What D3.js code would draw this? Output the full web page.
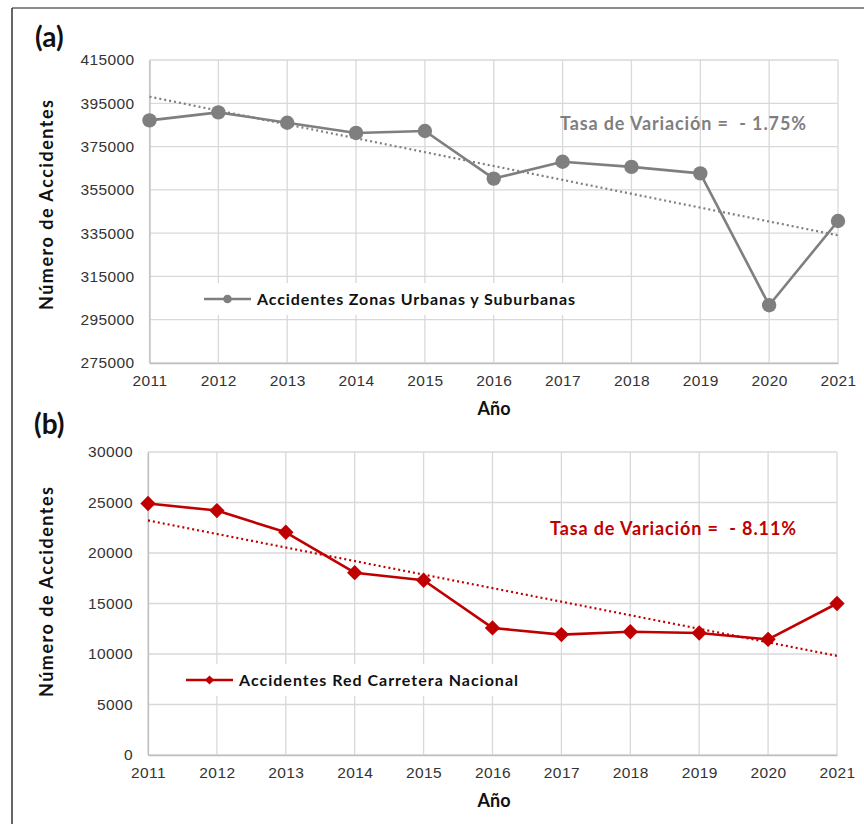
<!DOCTYPE html>
<html>
<head>
<meta charset="utf-8">
<script src="https://cdn.jsdelivr.net/npm/d3@7"></script>
<style>
  html, body { margin: 0; padding: 0; background: #fff; }
  svg { display: block; font-family: Lato, "Open Sans", sans-serif; }
</style>
</head>
<body>
<svg id="chart" width="864" height="824"></svg>
<script>
// Years on the horizontal axis (shared by both panels)
const years = [2011, 2012, 2013, 2014, 2015, 2016, 2017, 2018, 2019, 2020, 2021];

// (a) Accidents in urban and suburban zones
const urbanValues = [387100, 390800, 386000, 381300, 382200, 360200, 368000, 365600, 362600, 301700, 340600];
const urbanTicks = [275000, 295000, 315000, 335000, 355000, 375000, 395000, 415000];

// (b) Accidents on the national road network
const roadValues = [24900, 24200, 22050, 18050, 17300, 12580, 11920, 12200, 12080, 11450, 15000];
const roadTicks = [0, 5000, 10000, 15000, 20000, 25000, 30000];

const svg = d3.select("#chart");

// outer frame: top and left edges
svg.append("line").attr("x1", 12).attr("x2", 864).attr("y1", 8).attr("y2", 8)
  .attr("stroke", "#666").attr("stroke-width", 1.5);
svg.append("line").attr("x1", 12).attr("x2", 12).attr("y1", 8).attr("y2", 824)
  .attr("stroke", "#333").attr("stroke-width", 1.5);

// least-squares linear trend over year index
function linearFit(values) {
  const n = values.length;
  const xs = d3.range(n);
  const mx = d3.mean(xs), my = d3.mean(values);
  const sxy = d3.sum(xs, (x, i) => (x - mx) * (values[i] - my));
  const sxx = d3.sum(xs, x => (x - mx) * (x - mx));
  const slope = sxy / sxx;
  const b = my - slope * mx;
  return i => b + slope * i;
}

function panel(opts) {
  const g = svg.append("g");
  const x = d3.scalePoint().domain(years).range([opts.left, opts.right]);
  const y = d3.scaleLinear().domain(opts.domain).range([opts.bottom, opts.top]);

  // gridlines
  g.append("g").selectAll("line.h").data(opts.ticks).join("line")
    .attr("x1", opts.left).attr("x2", opts.right)
    .attr("y1", d => y(d)).attr("y2", d => y(d))
    .attr("stroke", "#d9d9d9").attr("stroke-width", 1.3);
  g.append("g").selectAll("line.v").data(years).join("line")
    .attr("x1", d => x(d)).attr("x2", d => x(d))
    .attr("y1", opts.top).attr("y2", opts.bottom)
    .attr("stroke", "#d9d9d9").attr("stroke-width", 1.3);

  // axes
  const yAxis = d3.axisLeft(y).tickValues(opts.ticks).tickSize(0).tickPadding(15)
    .tickFormat(d3.format("d"));
  const ya = g.append("g").attr("transform", `translate(${opts.left},0)`).call(yAxis);
  ya.select(".domain").attr("stroke", "#bfbfbf").attr("stroke-width", 1.3);
  ya.selectAll("text").attr("font-size", 15.5).attr("fill", "#333")
    .attr("letter-spacing", 0.4);

  const xAxis = d3.axisBottom(x).tickSize(0).tickPadding(12).tickFormat(d3.format("d"));
  const xa = g.append("g").attr("transform", `translate(0,${opts.bottom})`).call(xAxis);
  xa.select(".domain").attr("stroke", "#bfbfbf").attr("stroke-width", 1.3);
  xa.selectAll("text").attr("font-size", 15.5).attr("fill", "#333")
    .attr("letter-spacing", 0.4);

  // axis titles
  g.append("text")
    .attr("transform", `translate(53,${opts.titleMid}) rotate(-90)`)
    .attr("text-anchor", "middle").attr("font-size", 18).attr("font-weight", "bold")
    .attr("fill", "#111").attr("textLength", 210).attr("lengthAdjust", "spacing")
    .text("Número de Accidentes");
  g.append("text").attr("x", 494).attr("y", opts.bottom + 52)
    .attr("text-anchor", "middle").attr("font-size", 18).attr("font-weight", "bold")
    .attr("fill", "#111").text("Año");

  // panel label
  g.append("text").attr("x", opts.labelX).attr("y", opts.labelY)
    .attr("font-size", 28).attr("font-weight", "bold").attr("fill", "#111")
    .text(opts.label);

  // legend with white backdrop
  const lg = g.append("g").attr("transform", `translate(${opts.legendX},${opts.legendY})`);
  lg.append("rect").attr("x", -6).attr("y", -16).attr("width", opts.legendW).attr("height", 32)
    .attr("fill", "#fff");
  lg.append("line").attr("x1", 0).attr("x2", 47).attr("y1", 0).attr("y2", 0)
    .attr("stroke", opts.color).attr("stroke-width", 2.5);
  opts.marker(lg.append("g").attr("transform", "translate(23.5,0)"), 0.6);
  lg.append("text").attr("x", 53).attr("y", 5.5).attr("font-size", 16).attr("font-weight", "bold")
    .attr("fill", "#111").attr("textLength", opts.legendTextW).attr("lengthAdjust", "spacing")
    .text(opts.legendText);

  // trend line
  const fit = linearFit(opts.values);
  g.append("line")
    .attr("x1", x(years[0])).attr("y1", y(fit(0)))
    .attr("x2", x(years[years.length - 1])).attr("y2", y(fit(years.length - 1)))
    .attr("stroke", opts.color).attr("stroke-width", 2.2).attr("stroke-dasharray", "2,3");

  // annotation
  g.append("text").attr("x", opts.noteX).attr("y", opts.noteY)
    .attr("font-size", 18).attr("font-weight", "bold").attr("fill", opts.color)
    .attr("xml:space", "preserve").attr("textLength", 246).attr("lengthAdjust", "spacing")
    .text(opts.note);

  // series line and markers
  const line = d3.line().x((d, i) => x(years[i])).y(d => y(d));
  g.append("path").datum(opts.values).attr("d", line)
    .attr("fill", "none").attr("stroke", opts.color).attr("stroke-width", 2.6)
    .attr("stroke-linejoin", "round");
  g.append("g").selectAll("g").data(opts.values).join("g")
    .attr("transform", (d, i) => `translate(${x(years[i])},${y(d)})`)
    .each(function () { opts.marker(d3.select(this), 1); });
}

const circleMarker = (sel, s) => sel.append("circle").attr("r", 7.2 * s).attr("fill", "#7f7f7f");
const diamondMarker = (sel, s) => sel.append("path")
  .attr("d", d3.symbol().type(d3.symbolDiamond2).size(150 * s * s)).attr("fill", "#c00000");

panel({
  left: 149.5, right: 838, top: 60, bottom: 363, titleMid: 205,
  domain: [275000, 415000], ticks: urbanTicks, values: urbanValues,
  color: "#7f7f7f", marker: circleMarker,
  label: "(a)", labelX: 35, labelY: 47,
  legendX: 204, legendY: 299, legendW: 380,
  legendText: "Accidentes Zonas Urbanas y Suburbanas", legendTextW: 318,
  noteX: 560, noteY: 130, note: "Tasa de Variación =  - 1.75%"
});

panel({
  left: 148, right: 837, top: 452, bottom: 755, titleMid: 592,
  domain: [0, 30000], ticks: roadTicks, values: roadValues,
  color: "#c00000", marker: diamondMarker,
  label: "(b)", labelX: 34, labelY: 434,
  legendX: 186, legendY: 680, legendW: 340,
  legendText: "Accidentes Red Carretera Nacional", legendTextW: 279,
  noteX: 550, noteY: 535, note: "Tasa de Variación =  - 8.11%"
});
</script>
</body>
</html>
